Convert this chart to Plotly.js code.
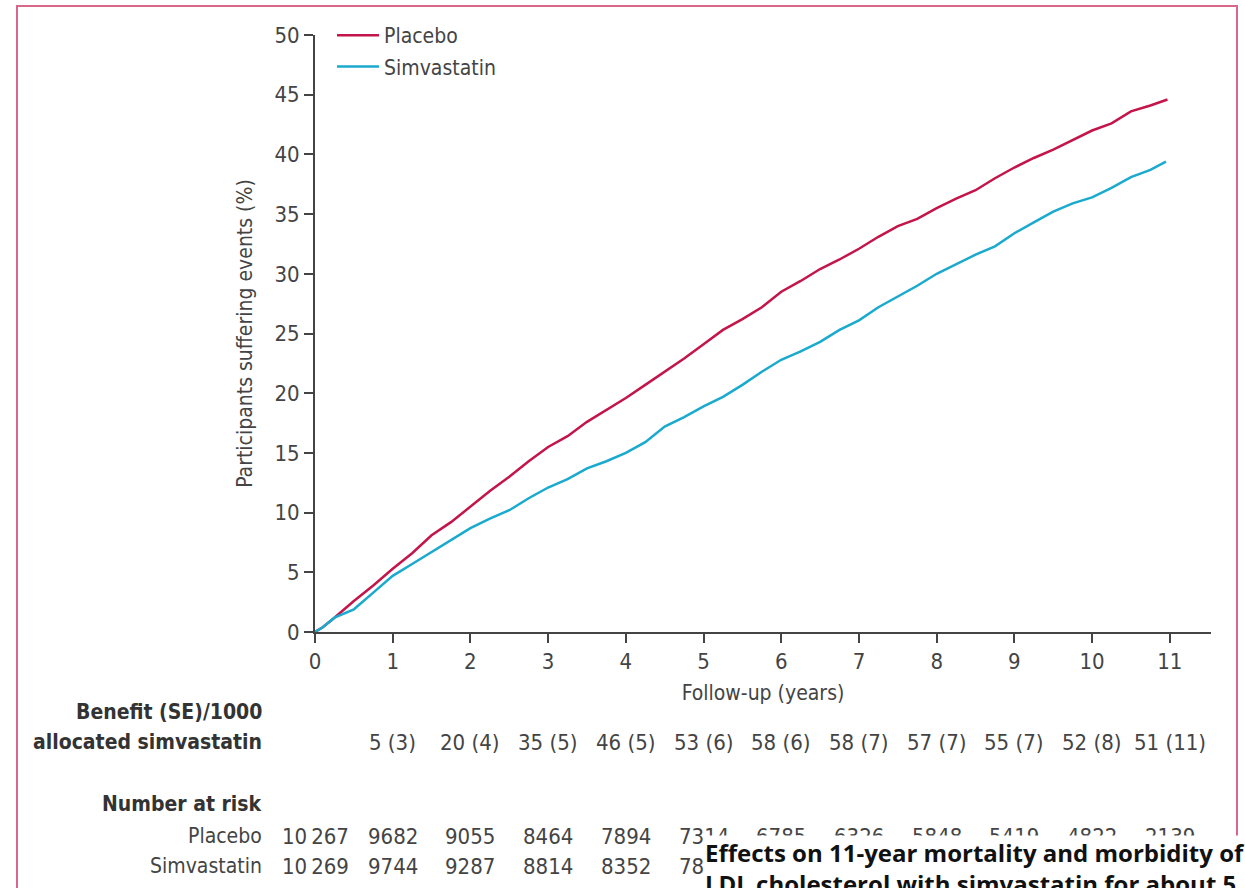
<!DOCTYPE html>
<html>
<head>
<meta charset="utf-8">
<script src="https://cdn.plot.ly/plotly-3.0.1.min.js"></script>
<style>html,body{margin:0;padding:0;background:#fff;}#chart{width:1245px;height:888px;}</style>
</head>
<body>
<div id="chart"></div>
<script>
// ---- data ----
const placeboYears = [0,0.1,0.25,0.5,0.75,1.0,1.25,1.5,1.75,2.0,2.25,2.5,2.75,3.0,3.25,3.5,3.75,4.0,4.25,4.5,4.75,5.0,5.25,5.5,5.75,6.0,6.25,6.5,6.75,7.0,7.25,7.5,7.75,8.0,8.25,8.5,8.75,9.0,9.25,9.5,9.75,10.0,10.25,10.5,10.75,10.97];
const placeboPct = [0,0.4,1.2,2.6,3.9,5.3,6.6,8.1,9.2,10.5,11.8,13.0,14.3,15.5,16.4,17.6,18.6,19.6,20.7,21.8,22.9,24.1,25.3,26.2,27.2,28.5,29.4,30.4,31.2,32.1,33.1,34.0,34.6,35.5,36.3,37.0,38.0,38.9,39.7,40.4,41.2,42.0,42.6,43.6,44.1,44.6];
const simvaYears = [0,0.1,0.25,0.5,0.75,1.0,1.25,1.5,1.75,2.0,2.25,2.5,2.75,3.0,3.25,3.5,3.75,4.0,4.25,4.5,4.75,5.0,5.25,5.5,5.75,6.0,6.25,6.5,6.75,7.0,7.25,7.5,7.75,8.0,8.25,8.5,8.75,9.0,9.25,9.5,9.75,10.0,10.25,10.5,10.75,10.95];
const simvaPct = [0,0.4,1.2,1.9,3.3,4.7,5.7,6.7,7.7,8.7,9.5,10.2,11.2,12.1,12.8,13.7,14.3,15.0,15.9,17.2,18.0,18.9,19.7,20.7,21.8,22.8,23.5,24.3,25.3,26.1,27.2,28.1,29.0,30.0,30.8,31.6,32.3,33.4,34.3,35.2,35.9,36.4,37.2,38.1,38.7,39.4];

const xTicks = [0,1,2,3,4,5,6,7,8,9,10,11];
const yTicks = [0,5,10,15,20,25,30,35,40,45,50];

const benefitYears = [1,2,3,4,5,6,7,8,9,10,11];
const benefitLabels = ["5 (3)","20 (4)","35 (5)","46 (5)","53 (6)","58 (6)","58 (7)","57 (7)","55 (7)","52 (8)","51 (11)"];

const riskYears = [0,1,2,3,4,5,6,7,8,9,10,11];
const placeboAtRisk = ["10\u2009267","9682","9055","8464","7894","7314","6785","6326","5848","5419","4822","2139"];
const simvaAtRisk = ["10\u2009269","9744","9287","8814","8352","7846"];

const captionText = "Effects on 11-year mortality and morbidity of<br>LDL cholesterol with simvastatin for about 5";

// ---- layout helpers (pixel -> paper) ----
const L = 315, R = 1211, T = 35, B = 632;
const pw = R - L, ph = B - T;
const px = v => (v - L) / pw;
const py = v => (B - v) / ph;

const FONT = '"Liberation Sans Narrow", "DejaVu Sans Condensed", "Open Sans", sans-serif';
const grey = '#444';

const traces = [
  {x: placeboYears, y: placeboPct, type: 'scatter', mode: 'lines', name: 'Placebo',
   line: {color: '#c4154b', width: 2.5}, legendgroup: 'a'},
  {x: simvaYears, y: simvaPct, type: 'scatter', mode: 'lines', name: 'Simvastatin',
   line: {color: '#1aaace', width: 2.5}, legendgroup: 'b'}
];

const annotations = [];
function lab(text, x, xref, y, anchor, bold, color, size) {
  annotations.push({text: bold ? '<b>' + text + '</b>' : text, x: x, xref: xref, y: py(y), yref: 'paper',
    xanchor: anchor, yanchor: 'middle', showarrow: false,
    font: {family: FONT, size: size || 22, color: color || grey}});
}
lab('Benefit (SE)/1000', px(264), 'paper', 712, 'right', true, '#333', 21);
lab('allocated simvastatin', px(264), 'paper', 742, 'right', true, '#333', 21);
benefitYears.forEach((yr, i) => lab(benefitLabels[i], yr, 'x', 742, 'center', false));
lab('Number at risk', px(264), 'paper', 804, 'right', true, '#333', 21);
lab('Placebo', px(264), 'paper', 836, 'right', false, grey, 21);
lab('Simvastatin', px(264), 'paper', 866, 'right', false, grey, 21);
placeboAtRisk.forEach((v, i) => lab(v, riskYears[i], 'x', 836, 'center', false));
simvaAtRisk.forEach((v, i) => lab(v, riskYears[i], 'x', 866, 'center', false));

// caption overlay with white box (drawn last so it covers the table)
annotations.push({text: '<b>' + captionText + '</b>', x: px(704), xref: 'paper', y: py(835), yref: 'paper',
  xanchor: 'left', yanchor: 'top', align: 'left', showarrow: false, bgcolor: '#ffffff',
  width: 560, height: 62, valign: 'top', borderpad: 0,
  font: {family: '"Open Sans", "DejaVu Sans", sans-serif', size: 24, color: '#111'}});

const layout = {
  width: 1245, height: 888,
  margin: {l: L, r: 1245 - R, t: T, b: 888 - B, pad: 0},
  paper_bgcolor: '#fff', plot_bgcolor: '#fff',
  font: {family: FONT, color: grey, size: 20},
  showlegend: true,
  legend: {x: px(332), y: py(15), xanchor: 'left', yanchor: 'top', bgcolor: 'rgba(0,0,0,0)',
    font: {family: FONT, size: 21, color: grey}, tracegroupgap: 1, traceorder: 'grouped', itemwidth: 42},
  xaxis: {range: [0, 11.53], tickvals: xTicks, ticktext: xTicks.map(String),
    showline: true, linecolor: grey, linewidth: 2, ticks: 'outside', ticklen: 9, tickwidth: 2, tickcolor: grey,
    showgrid: false, zeroline: false, fixedrange: true,
    tickfont: {family: FONT, size: 22, color: grey},
    title: {text: 'Follow-up (years)', standoff: 12, font: {family: FONT, size: 21, color: grey}}},
  yaxis: {range: [0, 50], tickvals: yTicks, ticktext: yTicks.map(String),
    showline: true, linecolor: grey, linewidth: 2, ticks: 'outside', ticklen: 9, tickwidth: 2, tickcolor: grey,
    showgrid: false, zeroline: false, fixedrange: true,
    tickfont: {family: FONT, size: 22, color: grey},
    title: {text: 'Participants suffering events (%)', standoff: 16, font: {family: FONT, size: 21, color: grey}}},
  shapes: [
    {type: 'rect', xref: 'paper', yref: 'paper', x0: px(17), x1: px(1237), y0: py(900), y1: py(6),
     line: {color: '#d8678a', width: 2}, fillcolor: 'rgba(0,0,0,0)', layer: 'below'}
  ],
  annotations: annotations
};

Plotly.newPlot('chart', traces, layout, {displayModeBar: false, staticPlot: true});
</script>
</body>
</html>
